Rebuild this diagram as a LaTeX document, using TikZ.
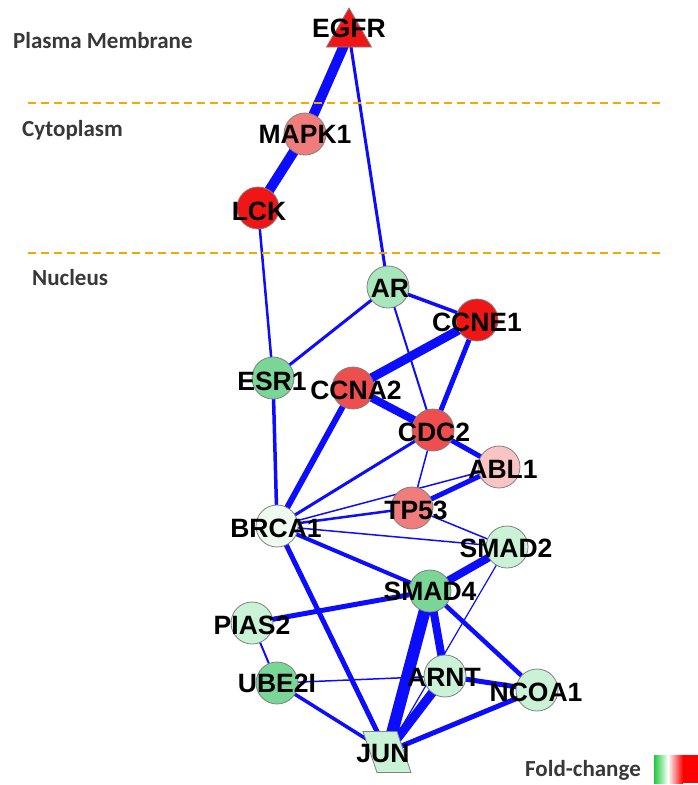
\documentclass[tikz,border=0pt]{standalone}
\usepackage{fontspec}
\setmainfont{Liberation Sans}
\newfontfamily\regionfont{Carlito}
\usetikzlibrary{shapes.geometric,backgrounds}

\definecolor{edgeblue}{RGB}{12,12,255}
\definecolor{zoneline}{RGB}{245,168,0}
\definecolor{upstrong}{RGB}{240,22,22}
\definecolor{upmid}{RGB}{238,78,78}
\definecolor{uplight}{RGB}{240,124,124}
\definecolor{upfaint}{RGB}{248,196,196}
\definecolor{dnstrong}{RGB}{122,214,150}
\definecolor{dnmid}{RGB}{168,230,188}
\definecolor{dnlight}{RGB}{202,242,214}
\definecolor{dnfaint}{RGB}{238,250,240}
\definecolor{legendgreen}{RGB}{30,200,60}

\begin{document}
\begin{tikzpicture}[x=1pt,y=-1pt,
  gene/.style={circle,draw=black!50,line width=0.8pt,minimum size=42pt,inner sep=0pt},
  lbl/.style={font=\fontsize{26.5}{30}\selectfont\bfseries,text=black,inner sep=0pt},
  lnk/.style={draw=edgeblue,line width=#1},
  region/.style={font=\regionfont\fontsize{23}{27}\selectfont\bfseries,text=black!78,anchor=west,inner sep=0pt},
  zone/.style={draw=zoneline,line width=2pt,dash pattern=on 8pt off 5pt},
]
\useasboundingbox (0,0) rectangle (698,785);

% compartment labels and boundaries
\node[region] (pm) at (13,41) {Plasma Membrane};
\node[region] (cy) at (22,130) {Cytoplasm};
\node[region] (nu) at (32,278) {Nucleus};
\coordinate (z1a) at (28,103); \coordinate (z1b) at (665,103);
\coordinate (z2a) at (28,253); \coordinate (z2b) at (665,253);
\draw[zone] (z1a) -- (z1b);
\draw[zone] (z2a) -- (z2b);

% genes
\node[regular polygon,regular polygon sides=3,minimum size=52pt,inner sep=0pt,
      fill=upstrong,draw=black!50,line width=0.8pt] (egfr) at (349,34) {};
\node[gene,fill=uplight]  (mapk1) at (305,134) {};
\node[gene,fill=upstrong] (lck)   at (258,208) {};
\node[gene,fill=dnmid]    (ar)    at (388,287) {};
\node[gene,fill=upstrong] (ccne1) at (477,320) {};
\node[gene,fill=dnstrong] (esr1)  at (273,378) {};
\node[gene,fill=upmid]    (ccna2) at (353,388) {};
\node[gene,fill=upmid]    (cdc2)  at (433,430) {};
\node[gene,fill=upfaint]  (abl1)  at (499,467) {};
\node[gene,fill=uplight]  (tp53)  at (412,508) {};
\node[gene,fill=dnfaint]  (brca1) at (277,526) {};
\node[gene,fill=dnlight]  (smad2) at (507,547) {};
\node[gene,fill=dnstrong] (smad4) at (430,591) {};
\node[gene,fill=dnlight]  (pias2) at (252,623) {};
\node[gene,fill=dnstrong] (ube2i) at (277,683) {};
\node[gene,fill=dnlight]  (arnt)  at (445,676) {};
\node[gene,fill=dnlight]  (ncoa1) at (537,690) {};
% JUN: slanted parallelogram around its node
\node[minimum width=48pt,minimum height=41pt,inner sep=0pt] (jun) at (387,752) {};
\filldraw[fill=dnlight,draw=black!50,line width=0.8pt]
  (jun.center) ++(-24,-20.5) -- ++(34,0) -- ++(14,41) -- ++(-34,0) -- cycle;

% interactions
\begin{pgfonlayer}{background}
\draw[lnk=10pt]  (egfr.center) -- (mapk1.center);
\draw[lnk=10pt]  (mapk1.center) -- (lck.center);
\draw[lnk=3pt]   (egfr.center) -- (ar.center);
\draw[lnk=2.5pt] (lck.center) -- (esr1.center);
\draw[lnk=3pt]   (ar.center) -- (esr1.center);
\draw[lnk=3.5pt] (ar.center) -- (ccne1.center);
\draw[lnk=2pt]   (ar.center) -- (cdc2.center);
\draw[lnk=9pt]   (ccne1.center) -- (ccna2.center);
\draw[lnk=5pt]   (ccne1.center) -- (cdc2.center);
\draw[lnk=8pt]   (ccna2.center) -- (cdc2.center);
\draw[lnk=6pt]   (ccna2.center) -- (brca1.center);
\draw[lnk=3.5pt] (esr1.center) -- (brca1.center);
\draw[lnk=5pt]   (cdc2.center) -- (abl1.center);
\draw[lnk=3pt]   (cdc2.center) -- (brca1.center);
\draw[lnk=1.5pt] (cdc2.center) -- (tp53.center);
\draw[lnk=5pt]   (abl1.center) -- (tp53.center);
\draw[lnk=1.5pt] (abl1.center) -- (brca1.center);
\draw[lnk=2.5pt] (tp53.center) -- (brca1.center);
\draw[lnk=1.5pt] (tp53.center) -- (smad2.center);
\draw[lnk=1.5pt] (brca1.center) -- (smad2.center);
\draw[lnk=4pt]   (brca1.center) -- (smad4.center);
\draw[lnk=5pt]   (brca1.center) -- (jun.center);
\draw[lnk=8pt]   (smad2.center) -- (smad4.center);
\draw[lnk=1.2pt] (smad2.center) -- (jun.center);
\draw[lnk=5pt]   (smad4.center) -- (pias2.center);
\draw[lnk=12pt]  (smad4.center) -- (jun.center);
\draw[lnk=8pt]   (smad4.center) -- (arnt.center);
\draw[lnk=4.5pt] (smad4.center) -- (ncoa1.center);
\draw[lnk=2pt]   (pias2.center) -- (ube2i.center);
\draw[lnk=1.5pt] (ube2i.center) -- (arnt.center);
\draw[lnk=3.5pt] (ube2i.center) -- (jun.center);
\draw[lnk=5pt]   (arnt.center) -- (ncoa1.center);
\draw[lnk=9pt]   (arnt.center) -- (jun.center);
\draw[lnk=5pt]   (ncoa1.center) -- (jun.center);
\end{pgfonlayer}

% gene symbols
\node[lbl] (t-egfr)  at (349,28)  {EGFR};
\node[lbl] (t-mapk1) at (305,134) {MAPK1};
\node[lbl] (t-lck)   at (259,211) {LCK};
\node[lbl] (t-ar)    at (390,288) {AR};
\node[lbl] (t-ccne1) at (477,322) {CCNE1};
\node[lbl] (t-esr1)  at (272,381) {ESR1};
\node[lbl] (t-ccna2) at (356,390) {CCNA2};
\node[lbl] (t-cdc2)  at (434,432) {CDC2};
\node[lbl] (t-abl1)  at (503,469) {ABL1};
\node[lbl] (t-tp53)  at (416,510) {TP53};
\node[lbl] (t-brca1) at (276,528) {BRCA1};
\node[lbl] (t-smad2) at (506,548) {SMAD2};
\node[lbl] (t-smad4) at (430,591) {SMAD4};
\node[lbl] (t-pias2) at (252,625) {PIAS2};
\node[lbl] (t-ube2i) at (277,683) {UBE2I};
\node[lbl] (t-arnt)  at (444,677) {ARNT};
\node[lbl] (t-ncoa1) at (536,692) {NCOA1};
\node[lbl] (t-jun)   at (383,754) {JUN};

% fold-change legend
\node[region] (fc) at (525,770) {Fold-change};
\shade[left color=legendgreen,right color=white] (654,755) rectangle (668,783);
\shade[left color=white,right color=red] (668,755) rectangle (683,783);
\fill[red] (683,755) rectangle (698,783);
\end{tikzpicture}
\end{document}
